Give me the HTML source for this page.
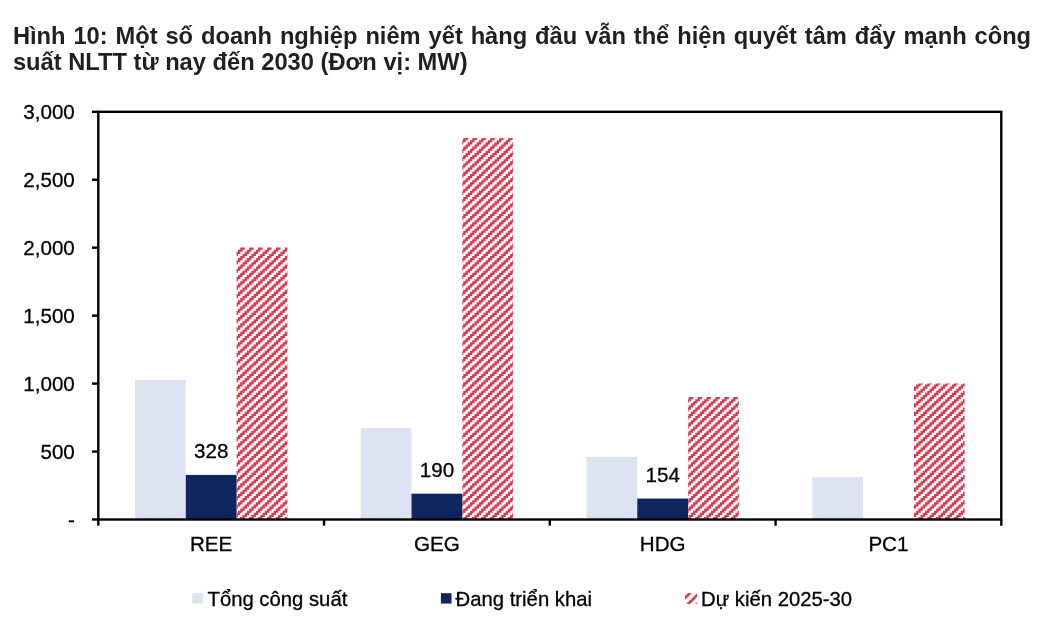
<!DOCTYPE html>
<html lang="vi">
<head>
<meta charset="utf-8">
<title>Hình 10</title>
<style>
html,body{margin:0;padding:0;background:#fff;}
body{width:1050px;height:630px;position:relative;overflow:hidden;font-family:"Liberation Sans",sans-serif;}
.t{position:absolute;left:12.9px;width:1018.2px;font-weight:bold;font-size:23.7px;line-height:26.2px;color:#231f20;white-space:nowrap;}
.t1{top:22.6px;text-align:justify;text-align-last:justify;}
.t2{top:48.8px;}
svg{position:absolute;left:0;top:0;}
svg text.lg{font-size:20.3px;}
svg text{font-family:"Liberation Sans",sans-serif;font-size:20.6px;fill:#000;stroke:#000;stroke-width:0.3px;}
</style>
</head>
<body>
<div class="t t1">Hình 10: Một số doanh nghiệp niêm yết hàng đầu vẫn thể hiện quyết tâm đẩy mạnh công</div>
<div class="t t2">suất NLTT từ nay đến 2030 (Đơn vị: MW)</div>
<svg width="1050" height="630" viewBox="0 0 1050 630">
<defs>
<path id="s" d="M4.573 0v2.105h-2.231v2.105h-2.231v2.105h-2.231v2.105h-2.231v2.105h-2.231v2.105h-2.231v2.105h-2.231v2.105h-2.231v2.105h-2.231v2.105h-2.231v2.105h-2.231v2.105h-2.231v2.105h-2.231v2.105h-2.231v2.105h-2.231v2.105h-2.231v2.105h-2.231v2.105h-2.231v2.105h-2.231v2.105h-2.231v2.105h-2.231v2.105h-2.231v2.105h-2.231v2.105h-2.231v2.105h-2.231v2.105h-2.231v2.105h-2.231v2.105h-4.573v-2.105h2.231v-2.105h2.231v-2.105h2.231v-2.105h2.231v-2.105h2.231v-2.105h2.231v-2.105h2.231v-2.105h2.231v-2.105h2.231v-2.105h2.231v-2.105h2.231v-2.105h2.231v-2.105h2.231v-2.105h2.231v-2.105h2.231v-2.105h2.231v-2.105h2.231v-2.105h2.231v-2.105h2.231v-2.105h2.231v-2.105h2.231v-2.105h2.231v-2.105h2.231v-2.105h2.231v-2.105h2.231v-2.105h2.231v-2.105h2.231v-2.105z"/>
<path id="q" d="M3.795 0v1.150h-1.150v1.150h-1.150v1.150h-1.150v1.150h-1.150v1.150h-1.150v1.150h-1.150v1.150h-1.150v1.150h-1.150v1.150h-1.150v1.150h-1.150v1.150h-1.150v1.150h-1.150v1.150h-1.150v1.150h-1.150v1.150h-1.150v1.150h-3.795v-1.150h1.150v-1.150h1.150v-1.150h1.150v-1.150h1.150v-1.150h1.150v-1.150h1.150v-1.150h1.150v-1.150h1.150v-1.150h1.150v-1.150h1.150v-1.150h1.150v-1.150h1.150v-1.150h1.150v-1.150h1.150v-1.150h1.150v-1.150z"/>
</defs>
<rect x="134.98" y="379.70" width="50.80" height="139.80" fill="#dde3f3"/><rect x="185.78" y="474.92" width="50.80" height="44.58" fill="#0e255e"/><text x="211.18" y="457.62" text-anchor="middle">328</text><clipPath id="c0"><rect x="236.58" y="243.60" width="50.80" height="275.90"/></clipPath>
<g clip-path="url(#c0)" fill="#d83c4e">
<path d="M235.85 247.60L235.85 249.70L231.28 249.70L231.28 247.60z"/>
<path d="M244.77 247.60L244.77 249.70L242.54 249.70L242.54 251.81L240.31 251.81L240.31 253.91L238.08 253.91L238.08 256.02L235.85 256.02L235.85 258.12L231.28 258.12L231.28 256.02L233.51 256.02L233.51 253.91L235.74 253.91L235.74 251.81L237.97 251.81L237.97 249.70L240.20 249.70L240.20 247.60z"/>
<path d="M253.70 247.60L253.70 249.70L251.47 249.70L251.47 251.81L249.23 251.81L249.23 253.91L247.00 253.91L247.00 256.02L244.77 256.02L244.77 258.12L242.54 258.12L242.54 260.23L240.31 260.23L240.31 262.33L238.08 262.33L238.08 264.44L235.85 264.44L235.85 266.54L231.28 266.54L231.28 264.44L233.51 264.44L233.51 262.33L235.74 262.33L235.74 260.23L237.97 260.23L237.97 258.12L240.20 258.12L240.20 256.02L242.43 256.02L242.43 253.91L244.66 253.91L244.66 251.81L246.89 251.81L246.89 249.70L249.12 249.70L249.12 247.60z"/>
<path d="M262.62 247.60L262.62 249.71L260.39 249.71L260.39 251.81L258.16 251.81L258.16 253.92L255.93 253.92L255.93 256.02L253.70 256.02L253.70 258.12L251.47 258.12L251.47 260.23L249.23 260.23L249.23 262.34L247.00 262.34L247.00 264.44L244.77 264.44L244.77 266.55L242.54 266.55L242.54 268.65L240.31 268.65L240.31 270.75L238.08 270.75L238.08 272.86L235.85 272.86L235.85 274.97L231.28 274.97L231.28 272.86L233.51 272.86L233.51 270.75L235.74 270.75L235.74 268.65L237.97 268.65L237.97 266.55L240.20 266.55L240.20 264.44L242.43 264.44L242.43 262.34L244.66 262.34L244.66 260.23L246.89 260.23L246.89 258.12L249.12 258.12L249.12 256.02L251.35 256.02L251.35 253.92L253.58 253.92L253.58 251.81L255.82 251.81L255.82 249.71L258.05 249.71L258.05 247.60z"/>
<path d="M271.54 247.60L271.54 249.70L269.31 249.70L269.31 251.81L267.08 251.81L267.08 253.91L264.85 253.91L264.85 256.02L262.62 256.02L262.62 258.12L260.39 258.12L260.39 260.23L258.16 260.23L258.16 262.33L255.93 262.33L255.93 264.44L253.70 264.44L253.70 266.55L251.47 266.55L251.47 268.65L249.23 268.65L249.23 270.75L247.00 270.75L247.00 272.86L244.77 272.86L244.77 274.96L242.54 274.96L242.54 277.07L240.31 277.07L240.31 279.18L238.08 279.18L238.08 281.28L235.85 281.28L235.85 283.38L231.28 283.38L231.28 281.28L233.51 281.28L233.51 279.18L235.74 279.18L235.74 277.07L237.97 277.07L237.97 274.96L240.20 274.96L240.20 272.86L242.43 272.86L242.43 270.75L244.66 270.75L244.66 268.65L246.89 268.65L246.89 266.55L249.12 266.55L249.12 264.44L251.35 264.44L251.35 262.33L253.58 262.33L253.58 260.23L255.82 260.23L255.82 258.12L258.05 258.12L258.05 256.02L260.28 256.02L260.28 253.91L262.51 253.91L262.51 251.81L264.74 251.81L264.74 249.70L266.97 249.70L266.97 247.60z"/>
<path d="M280.47 247.60L280.47 249.71L278.23 249.71L278.23 251.81L276.00 251.81L276.00 253.92L273.77 253.92L273.77 256.02L271.54 256.02L271.54 258.12L269.31 258.12L269.31 260.23L267.08 260.23L267.08 262.34L264.85 262.34L264.85 264.44L262.62 264.44L262.62 266.55L260.39 266.55L260.39 268.65L258.16 268.65L258.16 270.75L255.93 270.75L255.93 272.86L253.70 272.86L253.70 274.97L251.47 274.97L251.47 277.07L249.23 277.07L249.23 279.18L247.00 279.18L247.00 281.28L244.77 281.28L244.77 283.38L242.54 283.38L242.54 285.49L240.31 285.49L240.31 287.60L238.08 287.60L238.08 289.70L235.85 289.70L235.85 291.81L231.28 291.81L231.28 289.70L233.51 289.70L233.51 287.60L235.74 287.60L235.74 285.49L237.97 285.49L237.97 283.38L240.20 283.38L240.20 281.28L242.43 281.28L242.43 279.18L244.66 279.18L244.66 277.07L246.89 277.07L246.89 274.97L249.12 274.97L249.12 272.86L251.35 272.86L251.35 270.75L253.58 270.75L253.58 268.65L255.82 268.65L255.82 266.55L258.05 266.55L258.05 264.44L260.28 264.44L260.28 262.34L262.51 262.34L262.51 260.23L264.74 260.23L264.74 258.12L266.97 258.12L266.97 256.02L269.20 256.02L269.20 253.92L271.43 253.92L271.43 251.81L273.66 251.81L273.66 249.71L275.89 249.71L275.89 247.60z"/>
<path d="M289.39 247.60L289.39 249.70L287.16 249.70L287.16 251.81L284.93 251.81L284.93 253.91L282.70 253.91L282.70 256.02L280.47 256.02L280.47 258.12L278.23 258.12L278.23 260.23L276.00 260.23L276.00 262.33L273.77 262.33L273.77 264.44L271.54 264.44L271.54 266.55L269.31 266.55L269.31 268.65L267.08 268.65L267.08 270.75L264.85 270.75L264.85 272.86L262.62 272.86L262.62 274.96L260.39 274.96L260.39 277.07L258.16 277.07L258.16 279.18L255.93 279.18L255.93 281.28L253.70 281.28L253.70 283.38L251.47 283.38L251.47 285.49L249.23 285.49L249.23 287.60L247.00 287.60L247.00 289.70L244.77 289.70L244.77 291.81L242.54 291.81L242.54 293.91L240.31 293.91L240.31 296.01L238.08 296.01L238.08 298.12L235.85 298.12L235.85 300.23L231.28 300.23L231.28 298.12L233.51 298.12L233.51 296.01L235.74 296.01L235.74 293.91L237.97 293.91L237.97 291.81L240.20 291.81L240.20 289.70L242.43 289.70L242.43 287.60L244.66 287.60L244.66 285.49L246.89 285.49L246.89 283.38L249.12 283.38L249.12 281.28L251.35 281.28L251.35 279.18L253.58 279.18L253.58 277.07L255.82 277.07L255.82 274.96L258.05 274.96L258.05 272.86L260.28 272.86L260.28 270.75L262.51 270.75L262.51 268.65L264.74 268.65L264.74 266.55L266.97 266.55L266.97 264.44L269.20 264.44L269.20 262.33L271.43 262.33L271.43 260.23L273.66 260.23L273.66 258.12L275.89 258.12L275.89 256.02L278.12 256.02L278.12 253.91L280.35 253.91L280.35 251.81L282.58 251.81L282.58 249.70L284.81 249.70L284.81 247.60z"/>
<use href="#s" x="291.51" y="249.70"/>
<use href="#s" x="291.51" y="258.12"/>
<use href="#s" x="291.51" y="266.55"/>
<use href="#s" x="291.51" y="274.96"/>
<use href="#s" x="291.51" y="283.38"/>
<use href="#s" x="291.51" y="291.81"/>
<use href="#s" x="291.51" y="300.23"/>
<use href="#s" x="291.51" y="308.64"/>
<use href="#s" x="291.51" y="317.06"/>
<use href="#s" x="291.51" y="325.49"/>
<use href="#s" x="291.51" y="333.90"/>
<use href="#s" x="291.51" y="342.32"/>
<use href="#s" x="291.51" y="350.75"/>
<use href="#s" x="291.51" y="359.16"/>
<use href="#s" x="291.51" y="367.58"/>
<use href="#s" x="291.51" y="376.00"/>
<use href="#s" x="291.51" y="384.42"/>
<use href="#s" x="291.51" y="392.85"/>
<use href="#s" x="291.51" y="401.26"/>
<use href="#s" x="291.51" y="409.69"/>
<use href="#s" x="291.51" y="418.11"/>
<use href="#s" x="291.51" y="426.52"/>
<use href="#s" x="291.51" y="434.94"/>
<use href="#s" x="291.51" y="443.37"/>
<use href="#s" x="291.51" y="451.78"/>
<use href="#s" x="291.51" y="460.20"/>
<use href="#s" x="291.51" y="468.62"/>
<use href="#s" x="291.51" y="477.04"/>
<use href="#s" x="291.51" y="485.47"/>
<use href="#s" x="291.51" y="493.88"/>
<use href="#s" x="291.51" y="502.30"/>
<use href="#s" x="291.51" y="510.73"/>
<use href="#s" x="291.51" y="519.14"/>
</g><text x="211.18" y="550.8" text-anchor="middle">REE</text>
<rect x="360.73" y="427.80" width="50.80" height="91.70" fill="#dde3f3"/><rect x="411.53" y="493.68" width="50.80" height="25.82" fill="#0e255e"/><text x="436.93" y="477.28" text-anchor="middle">190</text><clipPath id="c1"><rect x="462.33" y="134.10" width="50.80" height="385.40"/></clipPath>
<g clip-path="url(#c1)" fill="#d83c4e">
<path d="M461.16 138.10L461.16 138.14L456.58 138.14L456.58 138.10z"/>
<path d="M470.08 138.10L470.08 138.14L467.85 138.14L467.85 140.25L465.62 140.25L465.62 142.35L463.39 142.35L463.39 144.46L461.16 144.46L461.16 146.56L456.58 146.56L456.58 144.46L458.81 144.46L458.81 142.35L461.04 142.35L461.04 140.25L463.27 140.25L463.27 138.14L465.51 138.14L465.51 138.10z"/>
<path d="M479.00 138.10L479.00 138.14L476.77 138.14L476.77 140.25L474.54 140.25L474.54 142.35L472.31 142.35L472.31 144.45L470.08 144.45L470.08 146.56L467.85 146.56L467.85 148.66L465.62 148.66L465.62 150.77L463.39 150.77L463.39 152.88L461.16 152.88L461.16 154.98L456.58 154.98L456.58 152.88L458.81 152.88L458.81 150.77L461.04 150.77L461.04 148.66L463.27 148.66L463.27 146.56L465.51 146.56L465.51 144.45L467.74 144.45L467.74 142.35L469.97 142.35L469.97 140.25L472.20 140.25L472.20 138.14L474.43 138.14L474.43 138.10z"/>
<path d="M487.92 138.10L487.92 138.14L485.69 138.14L485.69 140.25L483.46 140.25L483.46 142.35L481.23 142.35L481.23 144.46L479.00 144.46L479.00 146.56L476.77 146.56L476.77 148.67L474.54 148.67L474.54 150.77L472.31 150.77L472.31 152.88L470.08 152.88L470.08 154.98L467.85 154.98L467.85 157.09L465.62 157.09L465.62 159.19L463.39 159.19L463.39 161.30L461.16 161.30L461.16 163.40L456.58 163.40L456.58 161.30L458.81 161.30L458.81 159.19L461.04 159.19L461.04 157.09L463.27 157.09L463.27 154.98L465.51 154.98L465.51 152.88L467.74 152.88L467.74 150.77L469.97 150.77L469.97 148.67L472.20 148.67L472.20 146.56L474.43 146.56L474.43 144.46L476.66 144.46L476.66 142.35L478.89 142.35L478.89 140.25L481.12 140.25L481.12 138.14L483.35 138.14L483.35 138.10z"/>
<path d="M496.85 138.10L496.85 138.14L494.62 138.14L494.62 140.25L492.39 140.25L492.39 142.35L490.16 142.35L490.16 144.45L487.92 144.45L487.92 146.56L485.69 146.56L485.69 148.66L483.46 148.66L483.46 150.77L481.23 150.77L481.23 152.88L479.00 152.88L479.00 154.98L476.77 154.98L476.77 157.08L474.54 157.08L474.54 159.19L472.31 159.19L472.31 161.29L470.08 161.29L470.08 163.40L467.85 163.40L467.85 165.50L465.62 165.50L465.62 167.61L463.39 167.61L463.39 169.72L461.16 169.72L461.16 171.82L456.58 171.82L456.58 169.72L458.81 169.72L458.81 167.61L461.04 167.61L461.04 165.50L463.27 165.50L463.27 163.40L465.51 163.40L465.51 161.29L467.74 161.29L467.74 159.19L469.97 159.19L469.97 157.08L472.20 157.08L472.20 154.98L474.43 154.98L474.43 152.88L476.66 152.88L476.66 150.77L478.89 150.77L478.89 148.66L481.12 148.66L481.12 146.56L483.35 146.56L483.35 144.45L485.58 144.45L485.58 142.35L487.81 142.35L487.81 140.25L490.04 140.25L490.04 138.14L492.27 138.14L492.27 138.10z"/>
<path d="M505.77 138.10L505.77 138.14L503.54 138.14L503.54 140.25L501.31 140.25L501.31 142.35L499.08 142.35L499.08 144.45L496.85 144.45L496.85 146.56L494.62 146.56L494.62 148.66L492.39 148.66L492.39 150.77L490.16 150.77L490.16 152.88L487.92 152.88L487.92 154.98L485.69 154.98L485.69 157.08L483.46 157.08L483.46 159.19L481.23 159.19L481.23 161.29L479.00 161.29L479.00 163.40L476.77 163.40L476.77 165.50L474.54 165.50L474.54 167.61L472.31 167.61L472.31 169.72L470.08 169.72L470.08 171.82L467.85 171.82L467.85 173.93L465.62 173.93L465.62 176.03L463.39 176.03L463.39 178.13L461.16 178.13L461.16 180.24L456.58 180.24L456.58 178.13L458.81 178.13L458.81 176.03L461.04 176.03L461.04 173.93L463.27 173.93L463.27 171.82L465.51 171.82L465.51 169.72L467.74 169.72L467.74 167.61L469.97 167.61L469.97 165.50L472.20 165.50L472.20 163.40L474.43 163.40L474.43 161.29L476.66 161.29L476.66 159.19L478.89 159.19L478.89 157.08L481.12 157.08L481.12 154.98L483.35 154.98L483.35 152.88L485.58 152.88L485.58 150.77L487.81 150.77L487.81 148.66L490.04 148.66L490.04 146.56L492.27 146.56L492.27 144.45L494.51 144.45L494.51 142.35L496.74 142.35L496.74 140.25L498.97 140.25L498.97 138.14L501.20 138.14L501.20 138.10z"/>
<path d="M514.69 138.10L514.69 138.14L512.46 138.14L512.46 140.25L510.23 140.25L510.23 142.35L508.00 142.35L508.00 144.45L505.77 144.45L505.77 146.56L503.54 146.56L503.54 148.66L501.31 148.66L501.31 150.77L499.08 150.77L499.08 152.88L496.85 152.88L496.85 154.98L494.62 154.98L494.62 157.09L492.39 157.09L492.39 159.19L490.16 159.19L490.16 161.29L487.92 161.29L487.92 163.40L485.69 163.40L485.69 165.50L483.46 165.50L483.46 167.61L481.23 167.61L481.23 169.72L479.00 169.72L479.00 171.82L476.77 171.82L476.77 173.93L474.54 173.93L474.54 176.03L472.31 176.03L472.31 178.13L470.08 178.13L470.08 180.24L467.85 180.24L467.85 182.34L465.62 182.34L465.62 184.45L463.39 184.45L463.39 186.56L461.16 186.56L461.16 188.66L456.58 188.66L456.58 186.56L458.81 186.56L458.81 184.45L461.04 184.45L461.04 182.34L463.27 182.34L463.27 180.24L465.51 180.24L465.51 178.13L467.74 178.13L467.74 176.03L469.97 176.03L469.97 173.93L472.20 173.93L472.20 171.82L474.43 171.82L474.43 169.72L476.66 169.72L476.66 167.61L478.89 167.61L478.89 165.50L481.12 165.50L481.12 163.40L483.35 163.40L483.35 161.29L485.58 161.29L485.58 159.19L487.81 159.19L487.81 157.09L490.04 157.09L490.04 154.98L492.27 154.98L492.27 152.88L494.51 152.88L494.51 150.77L496.74 150.77L496.74 148.66L498.97 148.66L498.97 146.56L501.20 146.56L501.20 144.45L503.43 144.45L503.43 142.35L505.66 142.35L505.66 140.25L507.89 140.25L507.89 138.14L510.12 138.14L510.12 138.10z"/>
<use href="#s" x="516.81" y="138.14"/>
<use href="#s" x="516.81" y="146.56"/>
<use href="#s" x="516.81" y="154.98"/>
<use href="#s" x="516.81" y="163.40"/>
<use href="#s" x="516.81" y="171.82"/>
<use href="#s" x="516.81" y="180.24"/>
<use href="#s" x="516.81" y="188.66"/>
<use href="#s" x="516.81" y="197.08"/>
<use href="#s" x="516.81" y="205.50"/>
<use href="#s" x="516.81" y="213.92"/>
<use href="#s" x="516.81" y="222.34"/>
<use href="#s" x="516.81" y="230.76"/>
<use href="#s" x="516.81" y="239.18"/>
<use href="#s" x="516.81" y="247.60"/>
<use href="#s" x="516.81" y="256.02"/>
<use href="#s" x="516.81" y="264.44"/>
<use href="#s" x="516.81" y="272.86"/>
<use href="#s" x="516.81" y="281.28"/>
<use href="#s" x="516.81" y="289.70"/>
<use href="#s" x="516.81" y="298.12"/>
<use href="#s" x="516.81" y="306.54"/>
<use href="#s" x="516.81" y="314.96"/>
<use href="#s" x="516.81" y="323.38"/>
<use href="#s" x="516.81" y="331.80"/>
<use href="#s" x="516.81" y="340.22"/>
<use href="#s" x="516.81" y="348.64"/>
<use href="#s" x="516.81" y="357.06"/>
<use href="#s" x="516.81" y="365.48"/>
<use href="#s" x="516.81" y="373.90"/>
<use href="#s" x="516.81" y="382.32"/>
<use href="#s" x="516.81" y="390.74"/>
<use href="#s" x="516.81" y="399.16"/>
<use href="#s" x="516.81" y="407.58"/>
<use href="#s" x="516.81" y="416.00"/>
<use href="#s" x="516.81" y="424.42"/>
<use href="#s" x="516.81" y="432.84"/>
<use href="#s" x="516.81" y="441.26"/>
<use href="#s" x="516.81" y="449.68"/>
<use href="#s" x="516.81" y="458.10"/>
<use href="#s" x="516.81" y="466.52"/>
<use href="#s" x="516.81" y="474.94"/>
<use href="#s" x="516.81" y="483.36"/>
<use href="#s" x="516.81" y="491.78"/>
<use href="#s" x="516.81" y="500.20"/>
<use href="#s" x="516.81" y="508.62"/>
<use href="#s" x="516.81" y="517.04"/>
</g><text x="436.93" y="550.8" text-anchor="middle">GEG</text>
<rect x="586.47" y="456.90" width="50.80" height="62.60" fill="#dde3f3"/><rect x="637.27" y="498.57" width="50.80" height="20.93" fill="#0e255e"/><text x="662.67" y="482.17" text-anchor="middle">154</text><clipPath id="c2"><rect x="688.07" y="393.00" width="50.80" height="126.50"/></clipPath>
<g clip-path="url(#c2)" fill="#d83c4e">
<path d="M686.46 397.00L686.46 397.06L681.89 397.06L681.89 397.00z"/>
<path d="M695.38 397.00L695.38 397.05L693.15 397.05L693.15 399.16L690.92 399.16L690.92 401.26L688.69 401.26L688.69 403.37L686.46 403.37L686.46 405.47L681.89 405.47L681.89 403.37L684.12 403.37L684.12 401.26L686.35 401.26L686.35 399.16L688.58 399.16L688.58 397.05L690.81 397.05L690.81 397.00z"/>
<path d="M704.31 397.00L704.31 397.06L702.08 397.06L702.08 399.16L699.85 399.16L699.85 401.26L697.62 401.26L697.62 403.37L695.38 403.37L695.38 405.47L693.15 405.47L693.15 407.58L690.92 407.58L690.92 409.69L688.69 409.69L688.69 411.79L686.46 411.79L686.46 413.89L681.89 413.89L681.89 411.79L684.12 411.79L684.12 409.69L686.35 409.69L686.35 407.58L688.58 407.58L688.58 405.47L690.81 405.47L690.81 403.37L693.04 403.37L693.04 401.26L695.27 401.26L695.27 399.16L697.50 399.16L697.50 397.06L699.73 397.06L699.73 397.00z"/>
<path d="M713.23 397.00L713.23 397.06L711.00 397.06L711.00 399.16L708.77 399.16L708.77 401.26L706.54 401.26L706.54 403.37L704.31 403.37L704.31 405.48L702.08 405.48L702.08 407.58L699.85 407.58L699.85 409.69L697.62 409.69L697.62 411.79L695.38 411.79L695.38 413.89L693.15 413.89L693.15 416.00L690.92 416.00L690.92 418.11L688.69 418.11L688.69 420.21L686.46 420.21L686.46 422.31L681.89 422.31L681.89 420.21L684.12 420.21L684.12 418.11L686.35 418.11L686.35 416.00L688.58 416.00L688.58 413.89L690.81 413.89L690.81 411.79L693.04 411.79L693.04 409.69L695.27 409.69L695.27 407.58L697.50 407.58L697.50 405.48L699.73 405.48L699.73 403.37L701.97 403.37L701.97 401.26L704.20 401.26L704.20 399.16L706.43 399.16L706.43 397.06L708.66 397.06L708.66 397.00z"/>
<path d="M722.15 397.00L722.15 397.05L719.92 397.05L719.92 399.16L717.69 399.16L717.69 401.26L715.46 401.26L715.46 403.37L713.23 403.37L713.23 405.47L711.00 405.47L711.00 407.58L708.77 407.58L708.77 409.68L706.54 409.68L706.54 411.79L704.31 411.79L704.31 413.89L702.08 413.89L702.08 416.00L699.85 416.00L699.85 418.10L697.62 418.10L697.62 420.21L695.38 420.21L695.38 422.31L693.15 422.31L693.15 424.42L690.92 424.42L690.92 426.52L688.69 426.52L688.69 428.63L686.46 428.63L686.46 430.73L681.89 430.73L681.89 428.63L684.12 428.63L684.12 426.52L686.35 426.52L686.35 424.42L688.58 424.42L688.58 422.31L690.81 422.31L690.81 420.21L693.04 420.21L693.04 418.10L695.27 418.10L695.27 416.00L697.50 416.00L697.50 413.89L699.73 413.89L699.73 411.79L701.97 411.79L701.97 409.68L704.20 409.68L704.20 407.58L706.43 407.58L706.43 405.47L708.66 405.47L708.66 403.37L710.89 403.37L710.89 401.26L713.12 401.26L713.12 399.16L715.35 399.16L715.35 397.05L717.58 397.05L717.58 397.00z"/>
<path d="M731.08 397.00L731.08 397.06L728.85 397.06L728.85 399.16L726.62 399.16L726.62 401.27L724.38 401.27L724.38 403.37L722.15 403.37L722.15 405.48L719.92 405.48L719.92 407.58L717.69 407.58L717.69 409.69L715.46 409.69L715.46 411.79L713.23 411.79L713.23 413.90L711.00 413.90L711.00 416.00L708.77 416.00L708.77 418.11L706.54 418.11L706.54 420.21L704.31 420.21L704.31 422.32L702.08 422.32L702.08 424.42L699.85 424.42L699.85 426.53L697.62 426.53L697.62 428.63L695.38 428.63L695.38 430.74L693.15 430.74L693.15 432.84L690.92 432.84L690.92 434.95L688.69 434.95L688.69 437.05L686.46 437.05L686.46 439.16L681.89 439.16L681.89 437.05L684.12 437.05L684.12 434.95L686.35 434.95L686.35 432.84L688.58 432.84L688.58 430.74L690.81 430.74L690.81 428.63L693.04 428.63L693.04 426.53L695.27 426.53L695.27 424.42L697.50 424.42L697.50 422.32L699.73 422.32L699.73 420.21L701.97 420.21L701.97 418.11L704.20 418.11L704.20 416.00L706.43 416.00L706.43 413.90L708.66 413.90L708.66 411.79L710.89 411.79L710.89 409.69L713.12 409.69L713.12 407.58L715.35 407.58L715.35 405.48L717.58 405.48L717.58 403.37L719.81 403.37L719.81 401.27L722.04 401.27L722.04 399.16L724.27 399.16L724.27 397.06L726.50 397.06L726.50 397.00z"/>
<path d="M740.00 397.00L740.00 397.06L737.77 397.06L737.77 399.16L735.54 399.16L735.54 401.26L733.31 401.26L733.31 403.37L731.08 403.37L731.08 405.47L728.85 405.47L728.85 407.58L726.62 407.58L726.62 409.69L724.38 409.69L724.38 411.79L722.15 411.79L722.15 413.89L719.92 413.89L719.92 416.00L717.69 416.00L717.69 418.11L715.46 418.11L715.46 420.21L713.23 420.21L713.23 422.31L711.00 422.31L711.00 424.42L708.77 424.42L708.77 426.52L706.54 426.52L706.54 428.63L704.31 428.63L704.31 430.74L702.08 430.74L702.08 432.84L699.85 432.84L699.85 434.94L697.62 434.94L697.62 437.05L695.38 437.05L695.38 439.15L693.15 439.15L693.15 441.26L690.92 441.26L690.92 443.37L688.69 443.37L688.69 445.47L686.46 445.47L686.46 447.57L681.89 447.57L681.89 445.47L684.12 445.47L684.12 443.37L686.35 443.37L686.35 441.26L688.58 441.26L688.58 439.15L690.81 439.15L690.81 437.05L693.04 437.05L693.04 434.94L695.27 434.94L695.27 432.84L697.50 432.84L697.50 430.74L699.73 430.74L699.73 428.63L701.97 428.63L701.97 426.52L704.20 426.52L704.20 424.42L706.43 424.42L706.43 422.31L708.66 422.31L708.66 420.21L710.89 420.21L710.89 418.11L713.12 418.11L713.12 416.00L715.35 416.00L715.35 413.89L717.58 413.89L717.58 411.79L719.81 411.79L719.81 409.69L722.04 409.69L722.04 407.58L724.27 407.58L724.27 405.47L726.50 405.47L726.50 403.37L728.73 403.37L728.73 401.26L730.97 401.26L730.97 399.16L733.20 399.16L733.20 397.06L735.43 397.06L735.43 397.00z"/>
<use href="#s" x="742.12" y="397.06"/>
<use href="#s" x="742.12" y="405.48"/>
<use href="#s" x="742.12" y="413.89"/>
<use href="#s" x="742.12" y="422.31"/>
<use href="#s" x="742.12" y="430.74"/>
<use href="#s" x="742.12" y="439.15"/>
<use href="#s" x="742.12" y="447.57"/>
<use href="#s" x="742.12" y="456.00"/>
<use href="#s" x="742.12" y="464.41"/>
<use href="#s" x="742.12" y="472.83"/>
<use href="#s" x="742.12" y="481.25"/>
<use href="#s" x="742.12" y="489.67"/>
<use href="#s" x="742.12" y="498.10"/>
<use href="#s" x="742.12" y="506.51"/>
<use href="#s" x="742.12" y="514.93"/>
</g><text x="662.67" y="550.8" text-anchor="middle">HDG</text>
<rect x="812.22" y="477.10" width="50.80" height="42.40" fill="#dde3f3"/><clipPath id="c3"><rect x="913.82" y="379.50" width="50.80" height="140.00"/></clipPath>
<g clip-path="url(#c3)" fill="#d83c4e">
<path d="M914.00 383.50L914.00 384.42L911.77 384.42L911.77 386.53L907.19 386.53L907.19 384.42L909.42 384.42L909.42 383.50z"/>
<path d="M922.92 383.50L922.92 384.43L920.69 384.43L920.69 386.53L918.46 386.53L918.46 388.63L916.23 388.63L916.23 390.74L914.00 390.74L914.00 392.84L911.77 392.84L911.77 394.95L907.19 394.95L907.19 392.84L909.42 392.84L909.42 390.74L911.66 390.74L911.66 388.63L913.89 388.63L913.89 386.53L916.12 386.53L916.12 384.43L918.35 384.43L918.35 383.50z"/>
<path d="M931.84 383.50L931.84 384.43L929.61 384.43L929.61 386.53L927.38 386.53L927.38 388.63L925.15 388.63L925.15 390.74L922.92 390.74L922.92 392.85L920.69 392.85L920.69 394.95L918.46 394.95L918.46 397.06L916.23 397.06L916.23 399.16L914.00 399.16L914.00 401.26L911.77 401.26L911.77 403.37L907.19 403.37L907.19 401.26L909.42 401.26L909.42 399.16L911.66 399.16L911.66 397.06L913.89 397.06L913.89 394.95L916.12 394.95L916.12 392.85L918.35 392.85L918.35 390.74L920.58 390.74L920.58 388.63L922.81 388.63L922.81 386.53L925.04 386.53L925.04 384.43L927.27 384.43L927.27 383.50z"/>
<path d="M940.77 383.50L940.77 384.43L938.54 384.43L938.54 386.53L936.31 386.53L936.31 388.63L934.07 388.63L934.07 390.74L931.84 390.74L931.84 392.85L929.61 392.85L929.61 394.95L927.38 394.95L927.38 397.06L925.15 397.06L925.15 399.16L922.92 399.16L922.92 401.27L920.69 401.27L920.69 403.37L918.46 403.37L918.46 405.48L916.23 405.48L916.23 407.58L914.00 407.58L914.00 409.69L911.77 409.69L911.77 411.79L907.19 411.79L907.19 409.69L909.42 409.69L909.42 407.58L911.66 407.58L911.66 405.48L913.89 405.48L913.89 403.37L916.12 403.37L916.12 401.27L918.35 401.27L918.35 399.16L920.58 399.16L920.58 397.06L922.81 397.06L922.81 394.95L925.04 394.95L925.04 392.85L927.27 392.85L927.27 390.74L929.50 390.74L929.50 388.63L931.73 388.63L931.73 386.53L933.96 386.53L933.96 384.43L936.19 384.43L936.19 383.50z"/>
<path d="M949.69 383.50L949.69 384.42L947.46 384.42L947.46 386.53L945.23 386.53L945.23 388.63L943.00 388.63L943.00 390.74L940.77 390.74L940.77 392.84L938.54 392.84L938.54 394.95L936.31 394.95L936.31 397.05L934.07 397.05L934.07 399.16L931.84 399.16L931.84 401.26L929.61 401.26L929.61 403.37L927.38 403.37L927.38 405.47L925.15 405.47L925.15 407.58L922.92 407.58L922.92 409.69L920.69 409.69L920.69 411.79L918.46 411.79L918.46 413.89L916.23 413.89L916.23 416.00L914.00 416.00L914.00 418.10L911.77 418.10L911.77 420.21L907.19 420.21L907.19 418.10L909.42 418.10L909.42 416.00L911.66 416.00L911.66 413.89L913.89 413.89L913.89 411.79L916.12 411.79L916.12 409.69L918.35 409.69L918.35 407.58L920.58 407.58L920.58 405.47L922.81 405.47L922.81 403.37L925.04 403.37L925.04 401.26L927.27 401.26L927.27 399.16L929.50 399.16L929.50 397.05L931.73 397.05L931.73 394.95L933.96 394.95L933.96 392.84L936.19 392.84L936.19 390.74L938.42 390.74L938.42 388.63L940.66 388.63L940.66 386.53L942.89 386.53L942.89 384.42L945.12 384.42L945.12 383.50z"/>
<path d="M958.61 383.50L958.61 384.43L956.38 384.43L956.38 386.53L954.15 386.53L954.15 388.63L951.92 388.63L951.92 390.74L949.69 390.74L949.69 392.85L947.46 392.85L947.46 394.95L945.23 394.95L945.23 397.06L943.00 397.06L943.00 399.16L940.77 399.16L940.77 401.26L938.54 401.26L938.54 403.37L936.31 403.37L936.31 405.48L934.07 405.48L934.07 407.58L931.84 407.58L931.84 409.69L929.61 409.69L929.61 411.79L927.38 411.79L927.38 413.89L925.15 413.89L925.15 416.00L922.92 416.00L922.92 418.11L920.69 418.11L920.69 420.21L918.46 420.21L918.46 422.31L916.23 422.31L916.23 424.42L914.00 424.42L914.00 426.52L911.77 426.52L911.77 428.63L907.19 428.63L907.19 426.52L909.42 426.52L909.42 424.42L911.66 424.42L911.66 422.31L913.89 422.31L913.89 420.21L916.12 420.21L916.12 418.11L918.35 418.11L918.35 416.00L920.58 416.00L920.58 413.89L922.81 413.89L922.81 411.79L925.04 411.79L925.04 409.69L927.27 409.69L927.27 407.58L929.50 407.58L929.50 405.48L931.73 405.48L931.73 403.37L933.96 403.37L933.96 401.26L936.19 401.26L936.19 399.16L938.42 399.16L938.42 397.06L940.66 397.06L940.66 394.95L942.89 394.95L942.89 392.85L945.12 392.85L945.12 390.74L947.35 390.74L947.35 388.63L949.58 388.63L949.58 386.53L951.81 386.53L951.81 384.43L954.04 384.43L954.04 383.50z"/>
<path d="M967.54 383.50L967.54 384.43L965.31 384.43L965.31 386.53L963.07 386.53L963.07 388.63L960.84 388.63L960.84 390.74L958.61 390.74L958.61 392.85L956.38 392.85L956.38 394.95L954.15 394.95L954.15 397.06L951.92 397.06L951.92 399.16L949.69 399.16L949.69 401.26L947.46 401.26L947.46 403.37L945.23 403.37L945.23 405.48L943.00 405.48L943.00 407.58L940.77 407.58L940.77 409.69L938.54 409.69L938.54 411.79L936.31 411.79L936.31 413.89L934.07 413.89L934.07 416.00L931.84 416.00L931.84 418.11L929.61 418.11L929.61 420.21L927.38 420.21L927.38 422.31L925.15 422.31L925.15 424.42L922.92 424.42L922.92 426.53L920.69 426.53L920.69 428.63L918.46 428.63L918.46 430.74L916.23 430.74L916.23 432.84L914.00 432.84L914.00 434.94L911.77 434.94L911.77 437.05L907.19 437.05L907.19 434.94L909.42 434.94L909.42 432.84L911.66 432.84L911.66 430.74L913.89 430.74L913.89 428.63L916.12 428.63L916.12 426.53L918.35 426.53L918.35 424.42L920.58 424.42L920.58 422.31L922.81 422.31L922.81 420.21L925.04 420.21L925.04 418.11L927.27 418.11L927.27 416.00L929.50 416.00L929.50 413.89L931.73 413.89L931.73 411.79L933.96 411.79L933.96 409.69L936.19 409.69L936.19 407.58L938.42 407.58L938.42 405.48L940.66 405.48L940.66 403.37L942.89 403.37L942.89 401.26L945.12 401.26L945.12 399.16L947.35 399.16L947.35 397.06L949.58 397.06L949.58 394.95L951.81 394.95L951.81 392.85L954.04 392.85L954.04 390.74L956.27 390.74L956.27 388.63L958.50 388.63L958.50 386.53L960.73 386.53L960.73 384.43L962.96 384.43L962.96 383.50z"/>
<use href="#s" x="967.42" y="386.53"/>
<use href="#s" x="967.42" y="394.95"/>
<use href="#s" x="967.42" y="403.37"/>
<use href="#s" x="967.42" y="411.79"/>
<use href="#s" x="967.42" y="420.21"/>
<use href="#s" x="967.42" y="428.63"/>
<use href="#s" x="967.42" y="437.05"/>
<use href="#s" x="967.42" y="445.47"/>
<use href="#s" x="967.42" y="453.89"/>
<use href="#s" x="967.42" y="462.31"/>
<use href="#s" x="967.42" y="470.73"/>
<use href="#s" x="967.42" y="479.15"/>
<use href="#s" x="967.42" y="487.57"/>
<use href="#s" x="967.42" y="495.99"/>
<use href="#s" x="967.42" y="504.41"/>
<use href="#s" x="967.42" y="512.83"/>
<use href="#s" x="967.42" y="521.25"/>
</g><text x="888.42" y="550.8" text-anchor="middle">PC1</text>
<rect x="98.3" y="111.8" width="903.00" height="407.70" fill="none" stroke="#000" stroke-width="2.4"/>
<line x1="92" y1="519.50" x2="98.3" y2="519.50" stroke="#000" stroke-width="2.4"/><text x="74.8" y="526.95" text-anchor="end">-</text>
<line x1="92" y1="451.55" x2="98.3" y2="451.55" stroke="#000" stroke-width="2.4"/><text x="74.8" y="459.00" text-anchor="end">500</text>
<line x1="92" y1="383.60" x2="98.3" y2="383.60" stroke="#000" stroke-width="2.4"/><text x="74.8" y="391.05" text-anchor="end">1,000</text>
<line x1="92" y1="315.65" x2="98.3" y2="315.65" stroke="#000" stroke-width="2.4"/><text x="74.8" y="323.10" text-anchor="end">1,500</text>
<line x1="92" y1="247.70" x2="98.3" y2="247.70" stroke="#000" stroke-width="2.4"/><text x="74.8" y="255.15" text-anchor="end">2,000</text>
<line x1="92" y1="179.75" x2="98.3" y2="179.75" stroke="#000" stroke-width="2.4"/><text x="74.8" y="187.20" text-anchor="end">2,500</text>
<line x1="92" y1="111.80" x2="98.3" y2="111.80" stroke="#000" stroke-width="2.4"/><text x="74.8" y="119.25" text-anchor="end">3,000</text>
<line x1="98.30" y1="519.5" x2="98.30" y2="525.7" stroke="#000" stroke-width="2.4"/><line x1="324.05" y1="519.5" x2="324.05" y2="525.7" stroke="#000" stroke-width="2.4"/><line x1="549.80" y1="519.5" x2="549.80" y2="525.7" stroke="#000" stroke-width="2.4"/><line x1="775.55" y1="519.5" x2="775.55" y2="525.7" stroke="#000" stroke-width="2.4"/><line x1="1001.30" y1="519.5" x2="1001.30" y2="525.7" stroke="#000" stroke-width="2.4"/>
<rect x="192.3" y="593.2" width="10.8" height="10.4" fill="#dde3f3"/><text class="lg" x="207.5" y="605.7">Tổng công suất</text>
<rect x="440.9" y="593.2" width="10.6" height="10.4" fill="#0e255e"/><text class="lg" x="455.6" y="605.7">Đang triển khai</text>
<clipPath id="c9"><rect x="685.00" y="589.00" width="12.05" height="15.00"/></clipPath>
<g clip-path="url(#c9)" fill="#d83c4e">
<path d="M691.29 593.00L691.29 594.15L690.14 594.15L690.14 595.30L689.00 595.30L689.00 596.45L687.84 596.45L687.84 597.60L686.69 597.60L686.69 598.75L685.54 598.75L685.54 599.90L681.75 599.90L681.75 598.75L682.90 598.75L682.90 597.60L684.05 597.60L684.05 596.45L685.20 596.45L685.20 595.30L686.35 595.30L686.35 594.15L687.50 594.15L687.50 593.00z"/>
<path d="M700.50 593.00L700.50 594.15L699.34 594.15L699.34 595.30L698.19 595.30L698.19 596.45L697.04 596.45L697.04 597.60L695.89 597.60L695.89 598.75L694.75 598.75L694.75 599.90L693.59 599.90L693.59 601.05L692.44 601.05L692.44 602.20L691.29 602.20L691.29 603.35L690.14 603.35L690.14 604.50L689.00 604.50L689.00 605.65L687.84 605.65L687.84 606.80L686.69 606.80L686.69 607.95L685.54 607.95L685.54 609.10L681.75 609.10L681.75 607.95L682.90 607.95L682.90 606.80L684.05 606.80L684.05 605.65L685.20 605.65L685.20 604.50L686.35 604.50L686.35 603.35L687.50 603.35L687.50 602.20L688.65 602.20L688.65 601.05L689.80 601.05L689.80 599.90L690.95 599.90L690.95 598.75L692.10 598.75L692.10 597.60L693.25 597.60L693.25 596.45L694.40 596.45L694.40 595.30L695.55 595.30L695.55 594.15L696.70 594.15L696.70 593.00z"/>
<use href="#q" x="699.00" y="599.90"/>
</g><text class="lg" x="701" y="605.7">Dự kiến 2025-30</text>
</svg>
</body>
</html>
